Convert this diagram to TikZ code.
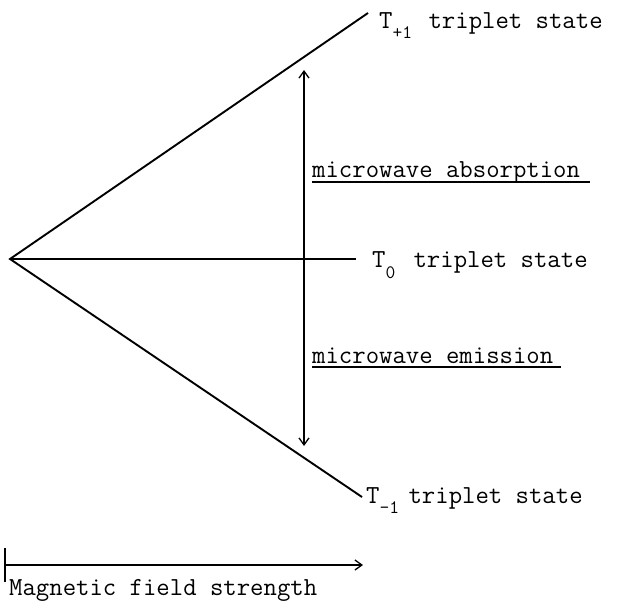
\documentclass[tikz,border=0pt]{standalone}
\usepackage{fontspec}
\usetikzlibrary{arrows.meta}
\tikzset{
  lbl/.style={font=\ttfamily\fontsize{26}{26}\selectfont, inner sep=0pt, anchor=base west},
  level/.style={line width=1.9pt},
  trans/.style={line width=1.5pt, -{Straight Barb[length=7pt,width=10pt,line width=1.3pt]}},
  uline/.style={line width=1.5pt},
}
\newcommand{\lsub}[2]{\makebox[#1][l]{\raisebox{-10pt}{\fontsize{19}{19}\selectfont #2}}}
\begin{document}
\begin{tikzpicture}[x=1pt,y=-1pt]
\useasboundingbox (0,0) rectangle (620,601);
% levels
\coordinate (v) at (10,259);
\coordinate (up) at (368,13);
\coordinate (mid) at (356,259);
\coordinate (lo) at (362,497);
\draw[level] (up) -- (v) -- (lo);
\draw[level] (v) -- (mid);
% labels
\node[lbl] (tp) at (379,29) {T\lsub{36pt}{+1}triplet state};
\node[lbl] (t0) at (372,268) {T\lsub{28pt}{0}triplet state};
\node[lbl] (tm) at (366,503) {T\lsub{29pt}{-1}triplet state};
% transitions
\coordinate (a) at (304,260);
\coordinate (atop) at (304,70);
\coordinate (abot) at (304,446);
\draw[trans] (a) -- (atop);
\draw[trans] (a) -- (abot);
\draw[line width=1.5pt] (304,250) -- (304,270);
\node[lbl] (abs) at (312,178) {microwave absorption};
\draw[uline] ([yshift=-4pt]abs.base west) -- ([xshift=10pt,yshift=-4pt]abs.base east);
\node[lbl] (emi) at (312,363) {microwave emission};
\draw[uline] ([yshift=-4pt]emi.base west) -- ([xshift=8pt,yshift=-4pt]emi.base east);
% axis
\coordinate (ax0) at (5,565);
\coordinate (ax1) at (363,565);
\coordinate (tk0) at (5,548);
\coordinate (tk1) at (5,582);
\draw[line width=1.5pt] (tk0) -- (tk1);
\draw[trans] (ax0) -- (ax1);
\node[lbl] (mag) at (9,595) {Magnetic field strength};
\end{tikzpicture}
\end{document}
